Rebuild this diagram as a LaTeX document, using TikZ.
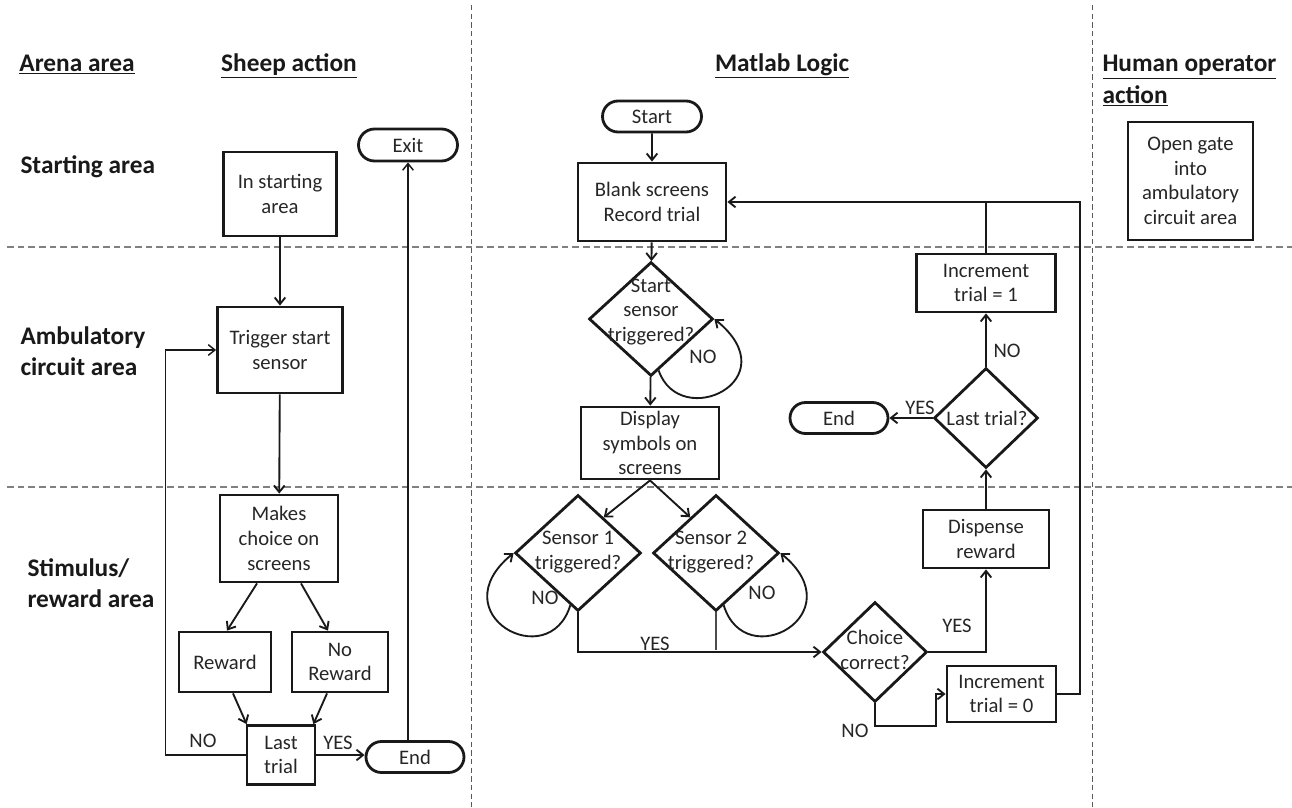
\documentclass[tikz,border=0pt]{standalone}
\usepackage{fontspec}
\setmainfont{Carlito}
\usetikzlibrary{arrows.meta,shapes.geometric,shapes.misc,calc}

\tikzset{every picture/.style={line width=0.75pt}}
\tikzset{
  txt/.style={font=\fontsize{15.5}{18.5}\selectfont, text=black!85, inner sep=0pt, align=center},
  head/.style={font=\fontsize{19}{23.5}\selectfont\bfseries, text=black!90, inner sep=0pt, align=left},
  sz/.style 2 args={minimum width=#1*0.75pt, minimum height=#2*0.75pt},
  procbox/.style={draw=black!90, line width=2.1pt, rectangle, txt},
  termbox/.style={draw=black!90, line width=2.1pt, rounded rectangle, txt},
  decision/.style={draw=black!90, line width=2.1pt, diamond, inner sep=0pt},
  flow/.style={draw=black!90, line width=1.4pt, -{Straight Barb[length=5pt,width=8pt]}},
  plain/.style={draw=black!90, line width=1.4pt},
  lanehoriz/.style={draw=black!50, line width=0.9pt, dash pattern=on 5pt off 3pt},
  lanevert/.style={draw=black!65, line width=0.7pt, dash pattern=on 4pt off 2.5pt},
}

\begin{document}
\begin{tikzpicture}[x=0.75pt,y=0.75pt,yscale=-1,xscale=1]
\useasboundingbox (0,0) rectangle (1292,807);

%Lane lines
\draw[lanevert] (471,5) -- (471,807);
\draw[lanevert] (1092,5) -- (1092,807);
\draw[lanehoriz] (7,247) -- (1292,247);
\draw[lanehoriz] (7,487) -- (1292,487);

%Column headers
\node[head, anchor=base] (hArena) at (77,71) {\underline{Arena area}};
\node[head, anchor=base] (hSheep) at (289,71) {\underline{Sheep action}};
\node[head, anchor=base] (hMatlab) at (782,71) {\underline{Matlab Logic}};
\node[head, anchor=north west] (hHuman) at (1102,55) {\underline{Human operator}\\\underline{action}};

%Row headers
\node[head, anchor=base west] (rStart) at (20,173) {Starting area};
\node[head, anchor=north west] (rAmb) at (20,326) {Ambulatory\\circuit area};
\node[head, anchor=north west] (rStim) at (27,558) {Stimulus/\\reward area};

%Sheep action
\node[procbox, sz={113}{84}] (instart) at (280,194) {In starting\\area};
\node[procbox, sz={125}{86}] (trig) at (280,350) {Trigger start\\sensor};
\node[procbox, sz={118}{87}] (makes) at (279,538.5) {Makes\\choice on\\screens};
\node[procbox, sz={92}{60}] (rew) at (225,662) {Reward};
\node[procbox, sz={96}{60}] (norew) at (340,662) {No\\Reward};
\node[procbox, sz={68}{59}] (last) at (281,755) {Last\\trial};
\node[termbox, sz={99}{32}] (exit) at (408,145) {Exit};
\node[termbox, sz={98}{31}] (end1) at (415,757) {End};

\draw[flow] (instart) -- (trig);
\draw[flow] (trig) -- (makes);
\draw[flow] ($(makes.south)+(-22,0)$) -- ($(rew.north)+(2,0)$);
\draw[flow] ($(makes.south)+(22,0)$) -- ($(norew.north)+(-12,0)$);
\draw[flow] ($(rew.south)+(8,0)$) -- ($(last.north west)+(1,0)$);
\draw[flow] ($(norew.south)+(-13,0)$) -- ($(last.north east)+(-3,0)$);
\draw[flow, line width=1.1pt] (last.west) -- ++(-80,0) |- (trig.west);
\draw[flow] (last.east) -- (last.east -| end1.west);
\draw[flow, line width=1.1pt] (end1.north -| exit) -- (exit.south);
\node[txt] (noSheep) at (203,741) {NO};
\node[txt] (yesSheep) at (338,743) {YES};

%Matlab logic
\node[termbox, sz={99}{31}] (start) at (652,116.5) {Start};
\node[procbox, sz={148}{78}] (blank) at (652,202) {Blank screens\\Record trial};
\node[decision, sz={124}{114}] (ss) at (651,319) {};
\node[txt] (ssT) at (651,312) {Start\\sensor\\triggered?};
\node[procbox, sz={138}{72}] (display) at (650,443) {Display\\symbols on\\screens};
\node[decision, sz={126}{116}] (s1) at (578,553) {};
\node[txt] (s1T) at (578,552) {Sensor 1\\triggered?};
\node[decision, sz={126}{116}] (s2) at (716,553) {};
\node[txt] (s2T) at (711,552) {Sensor 2\\triggered?};
\node[decision, sz={104}{100}] (choice) at (875,652) {};
\node[txt] (choiceT) at (875,650) {Choice\\correct?};
\node[procbox, sz={126}{58}] (disp) at (986,539) {Dispense\\reward};
\node[decision, sz={104}{100}] (lastq) at (986,418) {};
\node[txt] (lastqT) at (987,418) {Last trial?};
\node[termbox, sz={98}{31}] (end2) at (839,418) {End};
\node[procbox, sz={139}{58}] (inc1) at (986,283) {Increment\\trial = 1};
\node[procbox, sz={109}{56}] (inc0) at (1001.5,694) {Increment\\trial = 0};

\draw[flow] (start) -- (blank);
\draw[flow] (blank) -- (ss);
\draw[flow] (ss) -- (display);
\draw[flow] ($(ss.south)!0.12!(ss.east)$) .. controls (680,432) and (790,380) .. (ss.east);
\draw[flow] (display.south) -- ($(s1.north)!0.4!(s1.east)$);
\draw[flow] (display.south) -- ($(s2.north)!0.4!(s2.west)$);
\draw[flow] ($(s1.south)!0.12!(s1.west)$) .. controls (549,675) and (439,614) .. (s1.west);
\draw[flow] ($(s2.south)!0.12!(s2.east)$) .. controls (745,675) and (855,614) .. (s2.east);
\draw[flow] (s1.south) |- (choice.west);
\draw[line width=0.9pt, draw=black!70] (s2.south) -- ($(s2.south |- choice.west)+(0,-2)$);
\draw[flow] (choice.east) -| (disp.south);
\draw[flow] (choice.south) -- ++(0,23) -| ($(inc0.west)+(-10,0)$) -- (inc0.west);
\draw[flow] (inc0.east) -- ++(23,0) |- (blank.east);
\draw[plain] (inc1.north) -- (inc1.north |- blank.east);
\draw[flow] (disp) -- (lastq);
\draw[flow] (lastq.west) -- (end2.east);
\draw[flow] (lastq.north) -- (inc1.south);
\node[txt] (noSS) at (703,357) {NO};
\node[txt] (noS1) at (545,598) {NO};
\node[txt] (noS2) at (762,593) {NO};
\node[txt] (yesSens) at (655,644) {YES};
\node[txt] (yesChoice) at (957,626) {YES};
\node[txt] (noChoice) at (855,731) {NO};
\node[txt] (yesLast) at (920,408) {YES};
\node[txt] (noLast) at (1007,351) {NO};

%Human operator
\node[procbox, sz={125}{118}] (gate) at (1190.5,181) {Open gate\\into\\ambulatory\\circuit area};

\end{tikzpicture}
\end{document}
